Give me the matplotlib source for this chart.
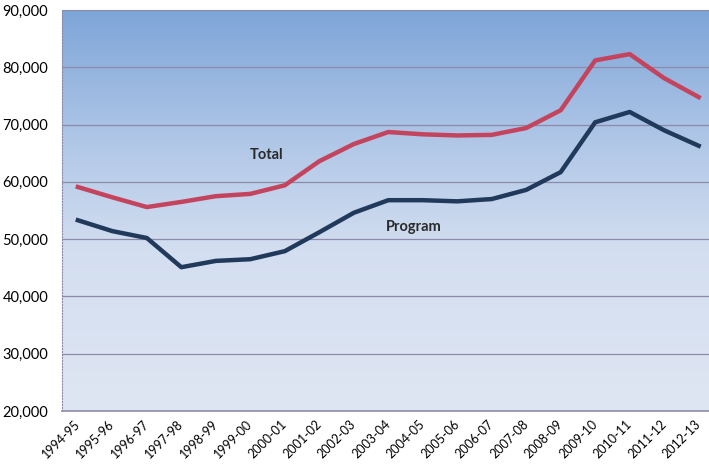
import numpy as np
import matplotlib.pyplot as plt
from matplotlib.colors import LinearSegmentedColormap
from matplotlib.ticker import FuncFormatter

plt.rcParams['font.family'] = ['Lato', 'DejaVu Sans']

anos = ["1994-95", "1995-96", "1996-97", "1997-98", "1998-99", "1999-00",
        "2000-01", "2001-02", "2002-03", "2003-04", "2004-05", "2005-06",
        "2006-07", "2007-08", "2008-09", "2009-10", "2010-11", "2011-12",
        "2012-13"]
total = [59100, 57300, 55600, 56500, 57500, 57900, 59400, 63600, 66600,
         68700, 68300, 68100, 68200, 69400, 72500, 81200, 82300, 78100, 74800]
program = [53300, 51400, 50200, 45100, 46200, 46500, 47900, 51200, 54600,
           56800, 56800, 56600, 57000, 58600, 61700, 70400, 72200, 69000, 66300]

fig = plt.figure(figsize=(7.09, 4.66), dpi=100)
ax = fig.add_axes([62 / 709, 55 / 466, 647 / 709, 401 / 466])

x = np.arange(len(anos))
xmin, xmax = -0.46, 18.3
ax.set_xlim(xmin, xmax)
ax.set_ylim(20000, 90000)

# fundo em degradê azul (escuro em cima, claro embaixo)
cmap = LinearSegmentedColormap.from_list(
    "fundo", [(0.0, "#7ea5d8"), (0.35, "#b3c9e8"), (0.6, "#d3def0"),
              (1.0, "#dfe6f3")])
grad = np.linspace(1, 0, 256).reshape(-1, 1)
ax.imshow(grad, cmap=cmap, aspect="auto", origin="lower",
          extent=[xmin, xmax, 20000, 90000], zorder=0)

for v in range(30000, 90001, 10000):
    ax.axhline(v, color="#8c8aa8", linewidth=0.9, zorder=1)

ax.plot(x, total, color="#c4445e", linewidth=3.2, zorder=3,
        solid_joinstyle="round")
ax.plot(x, program, color="#213a5c", linewidth=3.2, zorder=3,
        solid_joinstyle="round")

ax.text(5.47, 64700, "Total", ha="center", va="center", fontsize=10.5,
        fontweight="bold", color="#2a2a2a", zorder=4)
ax.text(9.74, 52100, "Program", ha="center", va="center", fontsize=10.5,
        fontweight="bold", color="#2a2a2a", zorder=4)

ax.set_xticks(x)
ax.set_xticklabels(anos, rotation=45, ha="right", va="center",
                   rotation_mode="anchor", fontsize=9)
ax.set_yticks(range(20000, 90001, 10000))
ax.yaxis.set_major_formatter(FuncFormatter(lambda v, p: f"{int(v):,}"))
ax.tick_params(axis="y", labelsize=10.5, length=0, pad=10)
ax.tick_params(axis="x", length=0, pad=8)

for s in ["top", "right"]:
    ax.spines[s].set_visible(False)
ax.spines["left"].set_linestyle(":")
ax.spines["left"].set_color("#8c8aa8")
ax.spines["bottom"].set_color("#8c8aa8")
ax.spines["bottom"].set_linewidth(1.2)

fig.savefig("out.png", dpi=100)
